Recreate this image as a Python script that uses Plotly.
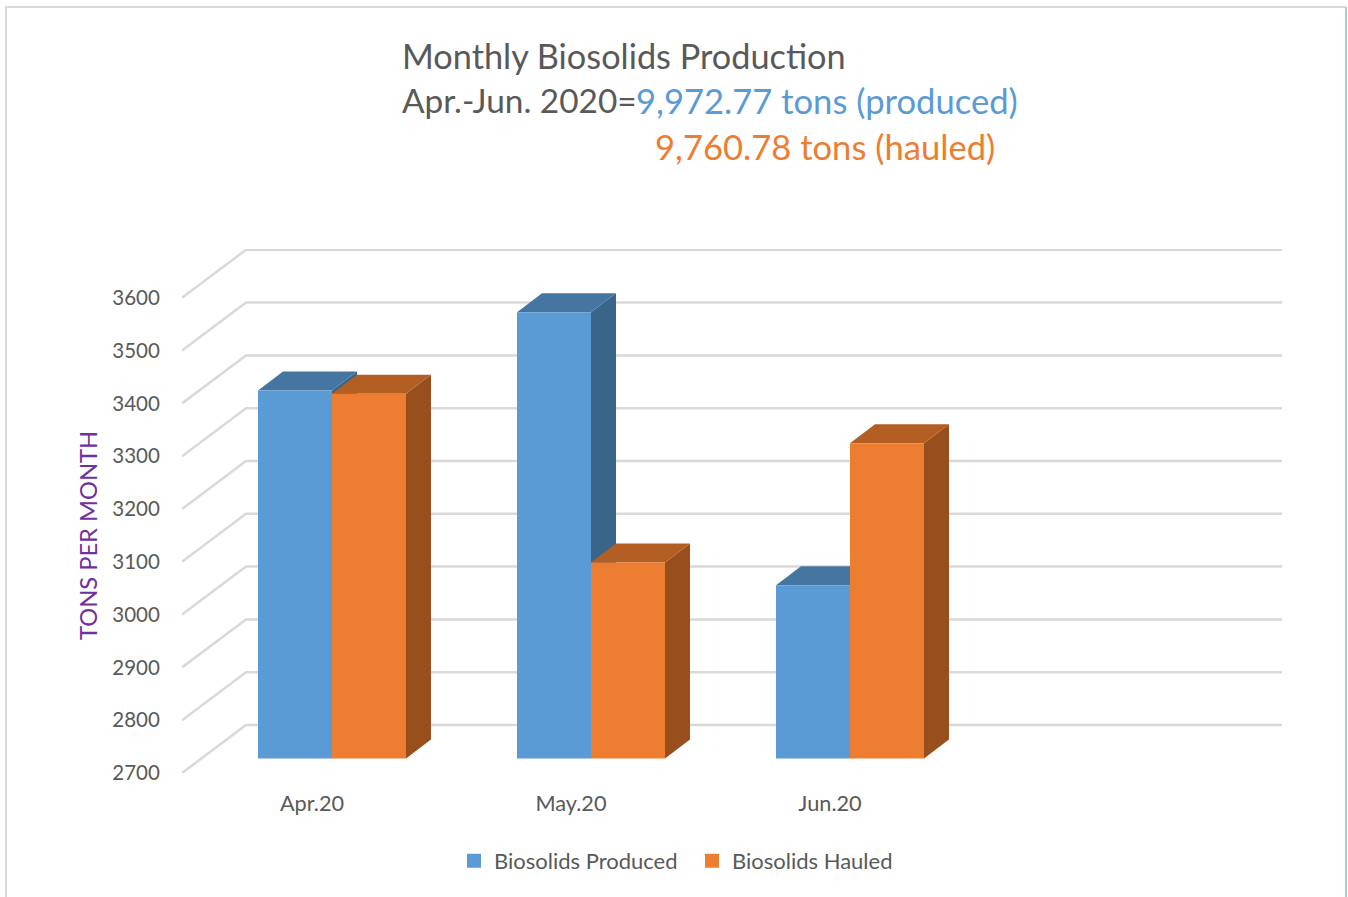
import plotly.graph_objects as go

# --- data ---
months = ["Apr.20", "May.20", "Jun.20"]
produced = [3397, 3545, 3028]
hauled = [3391, 3071, 3297]
y_ticks = [2700, 2800, 2900, 3000, 3100, 3200, 3300, 3400, 3500, 3600]
title_1 = "Monthly Biosolids Production"
title_2a = "Apr.-Jun. 2020="
title_2b = "9,972.77 tons (produced)"
title_3 = "9,760.78 tons (hauled)"
y_title = "TONS PER MONTH"

# --- layout geometry ---
W, H = 1348, 897
L, R, T, B = 182, 1282, 249, 773       # plot area in px
PX_PER_UNIT = 0.528                    # px per ton
CAT_PX = 259.0                         # px per category
X0_PX = 332.0                          # centre of first category
xr = [(L - X0_PX) / CAT_PX, (R - X0_PX) / CAT_PX]
yr = [2700, 2700 + (B - T) / PX_PER_UNIT]
WALL_DX = 64 / CAT_PX
WALL_DY = 48 / PX_PER_UNIT
BAR_PX = 74.0
BAR_W = BAR_PX / CAT_PX
BAR_DX = 25 / CAT_PX
BAR_DY = 19 / PX_PER_UNIT
FLOOR = 14.5 / PX_PER_UNIT             # bars sit this far up the floor
EDGE = 1 / PX_PER_UNIT                 # half of the bar outline, in tons

BLUE, BLUE_TOP, BLUE_SIDE = "#5B9BD5", "#4576A1", "#3A6589"
ORANGE, ORANGE_TOP, ORANGE_SIDE = "#ED7D31", "#B35E22", "#984F1B"
GREY_TXT = "#595959"
GRID = "#D9D9D9"
FONT = "Lato, Carlito, sans-serif"

fig = go.Figure()

# gridlines (side diagonal + back wall)
gx, gy = [], []
for v in y_ticks:
    gx += [xr[0], xr[0] + WALL_DX, xr[1], None]
    gy += [v, v + WALL_DY, v + WALL_DY, None]
fig.add_trace(go.Scatter(x=gx, y=gy, mode="lines", line=dict(color=GRID, width=2.5),
                         showlegend=False, hoverinfo="skip", cliponaxis=False))


def faces(values, side, top_col, side_col):
    """Top and right-hand faces of the oblique bars."""
    for i, v in enumerate(values):
        left = i + (side - 1) * BAR_W
        right = left + BAR_W
        tp = v + FLOOR
        fig.add_trace(go.Scatter(
            x=[right, right + BAR_DX, right + BAR_DX, right, right],
            y=[tp, tp + BAR_DY, 2700 + FLOOR + BAR_DY, 2700 + FLOOR, tp],
            mode="lines", fill="toself", fillcolor=side_col, line=dict(width=0),
            showlegend=False, hoverinfo="skip"))
        fig.add_trace(go.Scatter(
            x=[left, left + BAR_DX, right + BAR_DX, right, left],
            y=[tp, tp + BAR_DY, tp + BAR_DY, tp, tp],
            mode="lines", fill="toself", fillcolor=top_col, line=dict(width=0),
            showlegend=False, hoverinfo="skip"))


faces(produced, 0, BLUE_TOP, BLUE_SIDE)
faces(hauled, 1, ORANGE_TOP, ORANGE_SIDE)

# front faces on an overlaying axis pair, so they sit over the depth faces
xs = list(range(len(months)))
fig.add_trace(go.Bar(name="Biosolids Produced", x=xs, y=[v - 2700 - 2 * EDGE for v in produced],
                     base=2700 + FLOOR + EDGE, marker=dict(color=BLUE, line=dict(width=2, color=BLUE)),
                     xaxis="x2", yaxis="y2"))
fig.add_trace(go.Bar(name="Biosolids Hauled", x=xs, y=[v - 2700 - 2 * EDGE for v in hauled],
                     base=2700 + FLOOR + EDGE, marker=dict(color=ORANGE, line=dict(width=2, color=ORANGE)),
                     xaxis="x2", yaxis="y2"))


def ann(text, px, py, size=34.3, color=GREY_TXT, **kw):
    base = dict(text=text, xref="paper", yref="paper",
                x=(px - L) / (R - L), y=(B - py) / (B - T),
                xanchor="left", yanchor="middle", showarrow=False,
                font=dict(family=FONT, size=size, color=color))
    base.update(kw)
    return base


def frame(x0, y0, x1, y1, color):
    return dict(type="line", xref="paper", yref="paper", layer="below",
                x0=(x0 - L) / (R - L), x1=(x1 - L) / (R - L),
                y0=(B - y0) / (B - T), y1=(B - y1) / (B - T),
                line=dict(color=color, width=2))


fig.update_layout(
    width=W, height=H, paper_bgcolor="white", plot_bgcolor="white",
    margin=dict(l=L, r=W - R, t=T, b=H - B, autoexpand=False),
    barmode="group", bargap=1 - 2 * BAR_W, bargroupgap=2 / BAR_PX,
    font=dict(family=FONT, color=GREY_TXT),
    xaxis=dict(range=xr, showgrid=False, zeroline=False, showline=False,
               tickmode="array", tickvals=[i - 20 / CAT_PX for i in xs], ticktext=months,
               ticks="outside", ticklen=11, tickcolor="rgba(0,0,0,0)",
               tickfont=dict(size=21.7, color=GREY_TXT, family=FONT)),
    yaxis=dict(range=yr, showgrid=False, zeroline=False, showline=False,
               tickmode="array", tickvals=y_ticks, ticktext=[str(v) for v in y_ticks],
               ticks="outside", ticklen=17, tickcolor="rgba(0,0,0,0)",
               tickfont=dict(size=20.5, color=GREY_TXT, family=FONT)),
    xaxis2=dict(range=xr, overlaying="x", visible=False),
    yaxis2=dict(range=yr, overlaying="y", visible=False),
    legend=dict(orientation="h", x=(454 - L) / (R - L), y=(B - 861) / (B - T),
                xanchor="left", yanchor="middle", bgcolor="rgba(0,0,0,0)",
                font=dict(size=22, color=GREY_TXT, family=FONT), traceorder="normal",
                entrywidth=193, entrywidthmode="pixels"),
    annotations=[
        ann(title_1, 400, 56),
        ann(title_2a, 400, 100, size=33.4),
        ann(title_2b, 634, 100, size=34.6, color=BLUE),
        ann(title_3, 653, 146, size=34.6, color=ORANGE),
        ann(y_title, 88, 536, size=23.7, color="#7030A0", textangle=-90, xanchor="center"),
    ],
    shapes=[
        frame(5, 7, 1346, 7, "#D9D9D9"),
        frame(6, 7, 6, 897, "#D9D9D9"),
        frame(1346, 7, 1346, 897, "#A9CDCB"),
    ],
)

fig.write_html("out.html", config={"displayModeBar": False},
               post_script="document.body.style.margin='0';")
